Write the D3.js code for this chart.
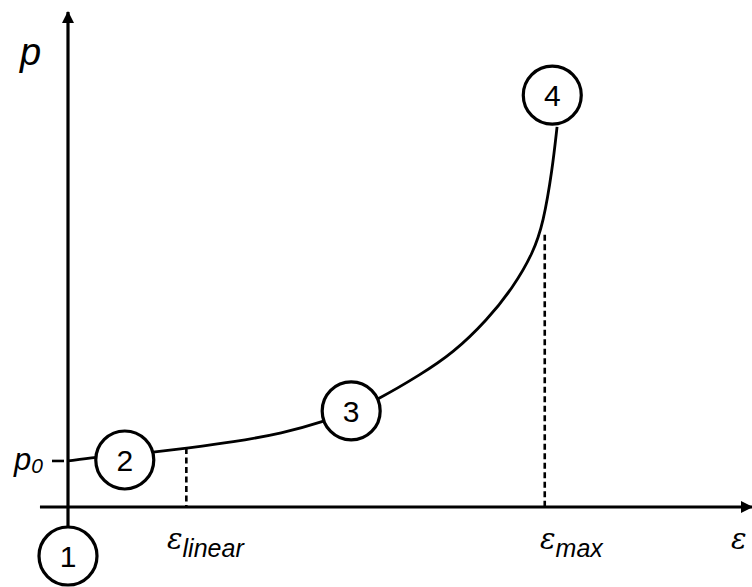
<!DOCTYPE html>
<html>
<head>
<meta charset="utf-8">
<script src="https://cdn.jsdelivr.net/npm/d3@7"></script>
<style>
  body { margin: 0; background: #fff; }
  svg text { font-family: "Liberation Sans", Arial, sans-serif; fill: #000; }
</style>
</head>
<body>
<div id="chart"></div>
<script>
// chart data (strain / pressure, arbitrary units 0..100)
const curve_eps = [0, 4.2, 8.3, 12.7, 17.3, 24.1, 31.4, 37.3, 41.4, 45.2, 51.5, 56.3, 61.3, 65.1, 68.0, 69.5, 70.8, 71.5]
const curve_p   = [9.3, 10.1, 10.5, 11.1, 11.9, 13.1, 14.9, 17.2, 19.4, 21.6, 26.7, 31.1, 37.8, 44.4, 51.3, 57.4, 68.1, 76.8]
const stage_labels = ["1", "2", "3", "4"]
const stage_eps = [0, 8.3, 41.4, 70.8]
const stage_p = [-9.9, 9.5, 19.4, 83.2]
const marker_names = ["linear", "max"]
const marker_eps = [17.3, 69.7]
const marker_p = [11.9, 55.0]
const p0_value = 9.3

// svg consts
const width = 752
const height = 587
const circle_r = 29
const label_x = [167, 540]

const x = d3.scaleLinear().domain([0, 100]).range([68, 752])
const y = d3.scaleLinear().domain([0, 100]).range([507, 12])

function setup_svg(){
    var svg = d3.select("#chart").append("svg")
        .attr("width", width)
        .attr("height", height)
    var defs = svg.append("defs")
    defs.append("marker")
        .attr("id", "arrow")
        .attr("viewBox", "0 0 12 12")
        .attr("refX", 11).attr("refY", 6)
        .attr("markerWidth", 12).attr("markerHeight", 12)
        .attr("markerUnits", "userSpaceOnUse")
        .attr("orient", "auto")
        .append("path")
        .attr("d", "M0,0 L12,6 L0,12 Z")
        .attr("fill", "#000")
    return svg
}

// axes
function draw_axes(svg){
    svg.append("line")
        .attr("x1", x(-4.1)).attr("x2", x(100))
        .attr("y1", y(0)).attr("y2", y(0))
        .attr("stroke", "#000").attr("stroke-width", 3.2)
        .attr("marker-end", "url(#arrow)")
    svg.append("line")
        .attr("x1", x(0)).attr("x2", x(0))
        .attr("y1", y(-9.9)).attr("y2", y(100))
        .attr("stroke", "#000").attr("stroke-width", 3.2)
        .attr("marker-end", "url(#arrow)")
    // p0 tick
    svg.append("line")
        .attr("x1", x(0) - 16).attr("x2", x(0) - 4)
        .attr("y1", y(p0_value)).attr("y2", y(p0_value))
        .attr("stroke", "#000").attr("stroke-width", 2.6)
}

function draw_markers(svg){
    svg.selectAll(".marker")
        .data(marker_eps)
        .join("line")
        .attr("class", "marker")
        .attr("x1", d => x(d)).attr("x2", d => x(d))
        .attr("y1", (d, i) => y(marker_p[i])).attr("y2", y(0))
        .attr("stroke", "#000").attr("stroke-width", 2.6)
        .attr("stroke-dasharray", "6,3.5")
}

function draw_curve(svg){
    var pts = curve_eps.map((e, i) => [e, curve_p[i]])
    svg.append("path")
        .datum(pts)
        .attr("d", d3.line().x(d => x(d[0])).y(d => y(d[1])).curve(d3.curveBasis))
        .attr("fill", "none")
        .attr("stroke", "#000")
        .attr("stroke-width", 2.8)
}

function draw_stages(svg){
    var g = svg.selectAll(".stage")
        .data(stage_labels)
        .join("g")
        .attr("class", "stage")
        .attr("transform", (d, i) => "translate(" + x(stage_eps[i]) + "," + y(stage_p[i]) + ")")
    g.append("circle")
        .attr("r", circle_r)
        .attr("fill", "#fff")
        .attr("stroke", "#000")
        .attr("stroke-width", 3.2)
    g.append("text")
        .attr("text-anchor", "middle")
        .attr("dy", "0.36em")
        .attr("font-size", 30)
        .text(d => d)
}

function draw_labels(svg){
    svg.append("text")
        .attr("x", 20).attr("y", 65)
        .attr("font-size", 38).attr("font-style", "italic")
        .text("p")
    var p0 = svg.append("text")
        .attr("x", 14).attr("y", 470)
        .attr("font-size", 31).attr("font-style", "italic")
    p0.append("tspan").text("p")
    p0.append("tspan").attr("dy", 3).attr("font-size", 21).text("0")

    // epsilon labels under the dashed markers
    svg.selectAll(".eps_label")
        .data(marker_names)
        .join("text")
        .attr("class", "eps_label")
        .attr("x", (d, i) => label_x[i])
        .attr("y", 549)
        .each(function(d){
            var t = d3.select(this)
            t.append("tspan")
                .style("font-family", "'DejaVu Serif', serif")
                .attr("font-style", "italic")
                .attr("font-size", 29)
                .text("\u03B5")
            t.append("tspan")
                .attr("dy", 8)
                .attr("font-style", "italic")
                .attr("font-size", 25)
                .text(d)
        })
    svg.append("text")
        .attr("x", 731).attr("y", 549)
        .style("font-family", "'DejaVu Serif', serif")
        .attr("font-style", "italic")
        .attr("font-size", 29)
        .text("\u03B5")
}

var svg = setup_svg()
draw_markers(svg)
draw_axes(svg)
draw_curve(svg)
draw_stages(svg)
draw_labels(svg)
</script>
</body>
</html>
